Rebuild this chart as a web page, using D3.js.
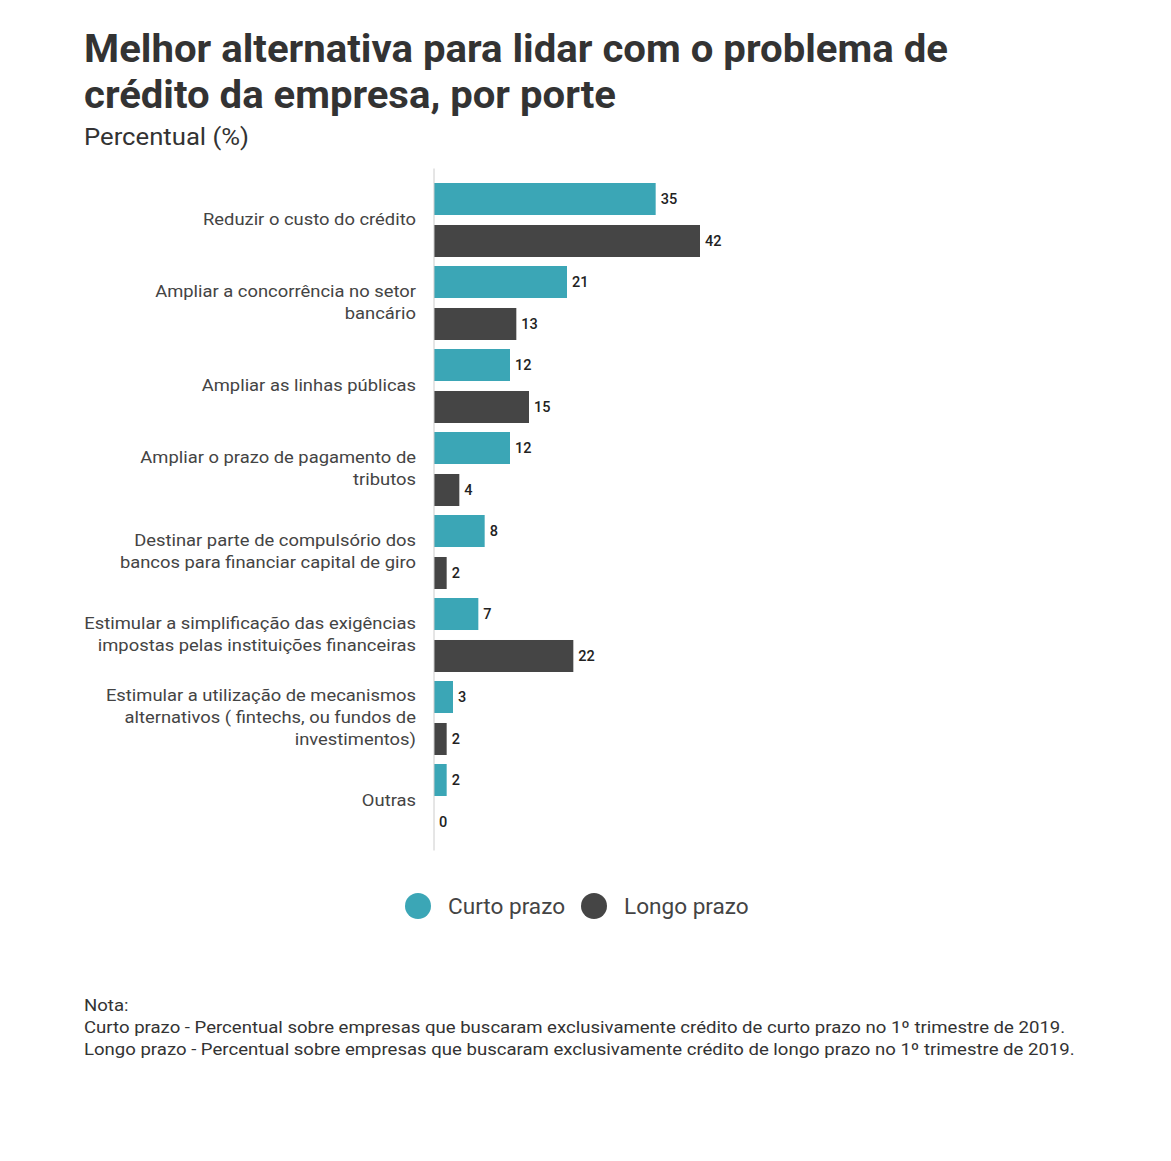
<!DOCTYPE html>
<html><head><meta charset="utf-8">
<script src="https://cdn.jsdelivr.net/npm/d3@7"></script>
<style>body{margin:0;background:#fff}</style>
</head><body>
<svg id="c" width="1171" height="1161"></svg>
<script>
const categories = [
  ["Reduzir o custo do crédito"],
  ["Ampliar a concorrência no setor","bancário"],
  ["Ampliar as linhas públicas"],
  ["Ampliar o prazo de pagamento de","tributos"],
  ["Destinar parte de compulsório dos","bancos para financiar capital de giro"],
  ["Estimular a simplificação das exigências","impostas pelas instituições financeiras"],
  ["Estimular a utilização de mecanismos","alternativos ( fintechs, ou fundos de","investimentos)"],
  ["Outras"]
];
const seriesNames = ["Curto prazo","Longo prazo"];
const curto = [35,21,12,12,8,7,3,2];
const longo = [42,13,15,4,2,22,2,0];
const colors = ["#3ba6b6","#454545"];

const svg = d3.select("#c");
const font = "Roboto, 'Open Sans', sans-serif";

function stretch(sel, f){
  sel.each(function(){
    const w = this.getComputedTextLength();
    d3.select(this).attr("textLength", w*f).attr("lengthAdjust","spacingAndGlyphs");
  });
  return sel;
}
function fitTo(sel, w){
  return sel.attr("textLength", w).attr("lengthAdjust","spacingAndGlyphs");
}

fitTo(svg.append("text").attr("x",84).attr("y",62).attr("font-family",font).attr("font-weight",700)
  .attr("font-size",38).attr("fill","#333").text("Melhor alternativa para lidar com o problema de"), 864);
fitTo(svg.append("text").attr("x",84).attr("y",108).attr("font-family",font).attr("font-weight",700)
  .attr("font-size",38).attr("fill","#333").text("crédito da empresa, por porte"), 532);
fitTo(svg.append("text").attr("x",84).attr("y",145).attr("font-family",font)
  .attr("font-size",24).attr("fill","#333").text("Percentual (%)"), 165);

const keys = categories.map((c,i)=>i);
const y0 = d3.scaleBand().domain(keys).range([179,843]);
const y1 = d3.scaleBand().domain(seriesNames).range([4,78]).paddingInner(0.238);
const x = d3.scaleLinear().domain([0,42]).range([434,700]);

const data = keys.map(i=>({i, vals:[curto[i],longo[i]]}));

const g = svg.append("g");
const grp = g.selectAll("g.grp").data(data).join("g").attr("transform",d=>`translate(0,${y0(d.i)})`);
grp.selectAll("rect").data(d=>d.vals.map((v,k)=>({v,k}))).join("rect")
  .attr("x",x(0)).attr("y",d=>y1(seriesNames[d.k]))
  .attr("width",d=>x(d.v)-x(0)).attr("height",y1.bandwidth())
  .attr("fill",d=>colors[d.k]);
grp.selectAll("text.val").data(d=>d.vals.map((v,k)=>({v,k}))).join("text")
  .attr("class","val")
  .attr("x",d=>x(d.v)+5).attr("y",d=>y1(seriesNames[d.k])+y1.bandwidth()/2)
  .attr("dy","0.35em").attr("font-family",font).attr("font-size",14.5).attr("font-weight",500)
  .attr("fill","#222").text(d=>d.v);

// category labels
grp.each(function(d){
  const lines = categories[d.i];
  const cy = 40;
  lines.forEach((l,j)=>{
    const t = d3.select(this).append("text").attr("text-anchor","end")
      .attr("font-family",font).attr("font-size",16.8).attr("fill","#444")
      .attr("x",416).attr("y",cy + (j-(lines.length-1)/2)*22).attr("dy","0.35em").text(l);
    stretch(t, 1.095);
  });
});

// axis line
const yAxis = d3.axisLeft(d3.scaleLinear().range([168,850])).ticks(0).tickSize(0).tickFormat("");
const ax = svg.append("g").attr("transform",`translate(${x(0)-0.5},0)`).call(yAxis);
ax.select(".domain").attr("stroke","#ccc");

// legend
const legX = [418,594];
seriesNames.forEach((s,k)=>{
  svg.append("circle").attr("cx",legX[k]).attr("cy",906).attr("r",13).attr("fill",colors[k]);
  stretch(svg.append("text").attr("x",legX[k]+30).attr("y",906).attr("dy","0.35em")
    .attr("font-family",font).attr("font-size",21.5).attr("fill","#444").text(s), 1.05);
});

// notes
const notes = ["Nota:",
 "Curto prazo - Percentual sobre empresas que buscaram exclusivamente crédito de curto prazo no 1º trimestre de 2019.",
 "Longo prazo - Percentual sobre empresas que buscaram exclusivamente crédito de longo prazo no 1º trimestre de 2019."];
notes.forEach((n,j)=>{
  stretch(svg.append("text").attr("x",84).attr("y",1011+j*22).attr("font-family",font)
    .attr("font-size",16.8).attr("fill","#333").text(n), 1.106);
});
</script>
</body></html>
